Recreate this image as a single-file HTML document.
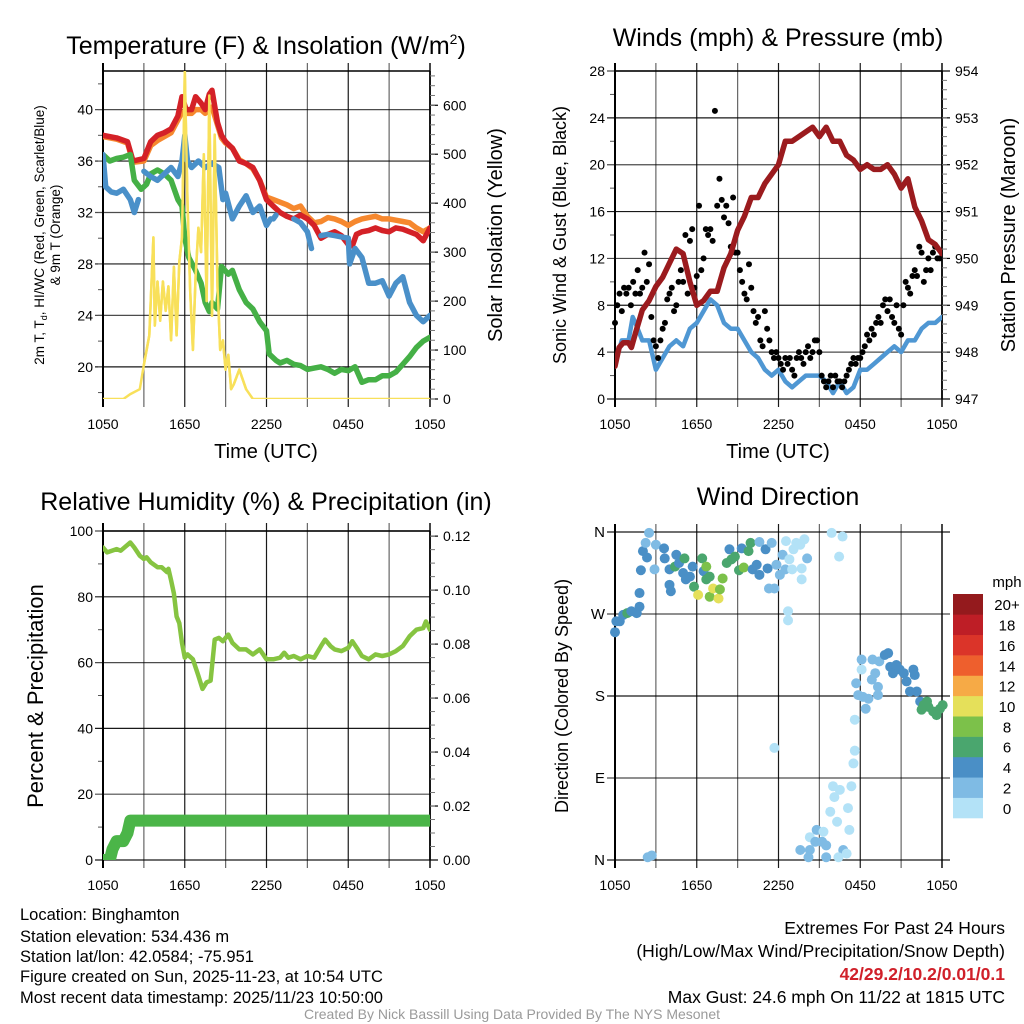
<!DOCTYPE html>
<html><head><meta charset="utf-8"><style>
html,body{margin:0;padding:0;background:#fff;}
svg{display:block;font-family:"Liberation Sans",sans-serif;}
</style></head><body>
<svg id="chart" width="1024" height="1024" viewBox="0 0 1024 1024" xmlns="http://www.w3.org/2000/svg">
<defs>
<clipPath id="c1"><rect x="103" y="71" width="327" height="328"/></clipPath>
<clipPath id="c2"><rect x="615" y="71" width="327" height="328"/></clipPath>
<clipPath id="c3"><rect x="103" y="531" width="327" height="329"/></clipPath>
<clipPath id="c4"><rect x="600" y="520" width="350" height="350"/></clipPath>
</defs>
<g id="layer"></g>
<text x="266" y="54" font-size="25" text-anchor="middle">Temperature (F) &amp; Insolation (W/m<tspan font-size="14" dy="-10">2</tspan><tspan dy="10">)</tspan></text>
<text x="778" y="46" font-size="25" text-anchor="middle">Winds (mph) &amp; Pressure (mb)</text>
<text x="266" y="510" font-size="25" text-anchor="middle">Relative Humidity (%) &amp; Precipitation (in)</text>
<text x="778" y="505" font-size="25" text-anchor="middle">Wind Direction</text>
<text x="266" y="458" font-size="20" text-anchor="middle">Time (UTC)</text>
<text x="778" y="458" font-size="20" text-anchor="middle">Time (UTC)</text>
<text font-size="13.5" text-anchor="middle" transform="translate(44,235) rotate(-90)">2m T, T<tspan font-size="9" dy="3">d</tspan><tspan dy="-3">, HI/WC (Red, Green, Scarlet/Blue)</tspan></text>
<text font-size="13.5" text-anchor="middle" transform="translate(60,235) rotate(-90)">&amp; 9m T (Orange)</text>
<text font-size="20" text-anchor="middle" transform="translate(502,235) rotate(-90)">Solar Insolation (Yellow)</text>
<text font-size="18" text-anchor="middle" transform="translate(566,235) rotate(-90)">Sonic Wind &amp; Gust (Blue, Black)</text>
<text font-size="20" text-anchor="middle" transform="translate(1015,235) rotate(-90)">Station Pressure (Maroon)</text>
<text font-size="22" text-anchor="middle" transform="translate(43,696) rotate(-90)">Percent &amp; Precipitation</text>
<text font-size="18" text-anchor="middle" transform="translate(568,696) rotate(-90)">Direction (Colored By Speed)</text>
<g font-size="16.5">
<text x="20" y="920">Location: Binghamton</text>
<text x="20" y="942">Station elevation: 534.436 m</text>
<text x="20" y="962">Station lat/lon: 42.0584; -75.951</text>
<text x="20" y="982">Figure created on Sun, 2025-11-23, at 10:54 UTC</text>
<text x="20" y="1003">Most recent data timestamp: 2025/11/23 10:50:00</text>
</g>
<g font-size="17.5" text-anchor="end">
<text x="1005" y="934">Extremes For Past 24 Hours</text>
<text x="1005" y="957">(High/Low/Max Wind/Precipitation/Snow Depth)</text>
<text x="1005" y="980" fill="#d0202a" font-weight="bold">42/29.2/10.2/0.01/0.1</text>
<text x="1005" y="1003">Max Gust: 24.6 mph On 11/22 at 1815 UTC</text>
</g>
<text x="512" y="1019" font-size="14" fill="#9a9a9a" text-anchor="middle">Created By Nick Bassill Using Data Provided By The NYS Mesonet</text>
</svg>
<script>
// ---------- data ----------
const xTickLabels = ["1050","1650","2250","0450","1050"];
const tempLeftTicks = [20,24,28,32,36,40];
const insolTicks = [0,100,200,300,400,500,600];
const windTicks = [0,4,8,12,16,20,24,28];
const pressTicks = [947,948,949,950,951,952,953,954];
const rhTicks = [0,20,40,60,80,100];
const precipTicks = ["0.00","0.02","0.04","0.06","0.08","0.10","0.12"];
const dirTicks = [0,90,180,270,360];
const dirLabels = ["N","E","S","W","N"];
const cbLabels = ["0","2","4","6","8","10","12","14","16","18","20+"];
const cbColors = ["#b3e2f7","#7fbbe4","#4a8fc6","#4aa66e","#7cc14a","#e5e05a","#f6aa46","#ee5f2d","#db3429","#be1e26","#941a1d"];

// time in hours since 1050 UTC
const redT = [[0,38],[1,37.8],[1.8,37.5],[2.2,36],[3,36.2],[3.5,37.5],[4,38],[4.5,38.2],[5,38.5],[5.5,39.5],[5.8,41],[6.1,40],[6.5,40],[6.8,41],[7.2,40.5],[7.5,40],[7.8,41.2],[8,41.5],[8.4,39],[8.7,38],[9,37.5],[9.5,37],[10,36],[10.5,35.8],[11,35.5],[11.5,34.5],[12,33],[12.5,32.5],[13,32],[13.5,31.7],[14,31.5],[14.5,31.8],[15,31.5],[15.5,31],[16,30],[16.5,30.3],[17,30.5],[17.5,30.2],[18,29.5],[18.3,29.4],[18.6,30.3],[19,30.5],[19.5,30.6],[20,30.8],[20.5,30.6],[21,30.5],[21.5,30.8],[22,30.7],[22.5,30.5],[23,30.3],[23.5,29.8],[24,30.8]];
const orangeT = [[0,37.9],[1,37.7],[1.8,37.4],[2.2,35.9],[3,36],[3.5,37.2],[4,37.6],[4.5,37.9],[5,38.2],[5.5,39.2],[5.8,39.8],[6.1,39.7],[6.5,39.7],[6.8,40],[7.2,40],[7.5,39.7],[7.8,40],[8,40.2],[8.4,38.8],[8.7,37.8],[9,37.4],[9.5,37],[10,36.1],[10.5,35.8],[11,35.4],[11.5,34.5],[12,33.2],[12.5,33],[13,32.8],[13.5,32.6],[14,32.3],[14.5,32.5],[15,31.7],[15.5,31.2],[16,31.3],[16.5,31.6],[17,31.5],[17.5,31.3],[18,31],[18.5,31.3],[19,31.5],[19.5,31.6],[20,31.7],[20.5,31.5],[21,31.5],[21.5,31.4],[22,31.3],[22.5,31.2],[23,30.8],[23.5,30.5],[24,30.8]];
const greenT = [[0,36.5],[0.5,36],[1,36.2],[1.5,36.3],[2,36.5],[2.3,34.5],[2.8,33.8],[3.2,34.2],[3.5,35],[4,35.3],[4.5,35],[5,34.5],[5.5,33],[5.8,32.5],[6,30],[6.3,28.5],[6.8,27.5],[7.2,26.5],[7.5,25],[7.8,24.3],[8,25],[8.4,24.5],[8.7,27.8],[9.2,27.2],[9.5,27.5],[10,26],[10.5,25],[11,24.5],[11.5,23.5],[12,22.8],[12.2,21],[12.7,20.5],[13,20.3],[13.5,20.5],[14,20.2],[14.5,20.1],[15,19.8],[15.5,19.9],[16,20],[16.5,19.8],[17,19.5],[17.5,19.8],[18,19.7],[18.5,20],[19,18.8],[19.5,19],[20,19],[20.5,19.3],[21,19.3],[21.5,19.6],[22,20.2],[22.5,20.8],[23,21.5],[23.5,22],[24,22.3]];
const blueT = [[0,36.5],[0.2,34],[0.6,33.6],[1,33.5],[1.5,33.8],[2,33],[2.3,32],[2.6,33],[null,null],[3,35.2],[3.5,34.8],[4,34.5],[4.5,35],[5,35.5],[5.5,34.8],[5.8,36],[6,38],[6.2,36],[6.5,35.5],[7,36],[7.5,35.5],[8,35.8],[8.5,35.5],[8.8,33],[9,33.5],[9.5,31.5],[10,32.5],[10.5,33.3],[11,32],[11.5,32.5],[12,31],[12.3,31.5],[null,null],[12.5,31.5],[12.7,31.8],[null,null],[14,31.5],[14.5,31.2],[15,30.5],[15.3,29.2],[null,null],[16,30.2],[16.5,30.3],[17,30.2],[17.5,30.1],[18,30],[18.1,28],[18.5,29.2],[19,28.5],[19.5,26.5],[20,26.5],[20.5,26.7],[21,25.5],[21.5,26.5],[22,27],[22.5,25],[23,24],[23.5,23.5],[24,24]];
const insolT = [[0,0],[1.5,0],[2,10],[2.7,20],[3,70],[3.2,100],[3.4,130],[3.7,330],[3.8,150],[4,240],[4.2,160],[4.4,240],[4.6,180],[4.8,230],[5,120],[5.2,270],[5.4,130],[5.6,280],[5.8,330],[6,670],[6.2,400],[6.4,220],[6.6,100],[6.8,250],[7,350],[7.2,300],[7.4,500],[7.6,200],[7.8,620],[8,170],[8.2,540],[8.4,230],[8.6,100],[8.8,120],[9,60],[9.2,90],[9.4,20],[9.6,30],[10,60],[10.5,20],[11,0],[24,0]];

const pressT = [[0,947.7],[0.3,948.1],[0.6,948.2],[1,948.2],[1.2,948.1],[1.5,948.4],[2,948.9],[2.5,949.1],[3,949.4],[3.5,949.6],[4,949.9],[4.5,950.2],[5,950.1],[5.5,949.5],[6,949.0],[6.5,949.1],[7,949.3],[7.5,949.3],[8,949.8],[8.5,950.1],[9,950.6],[9.5,950.9],[10,951.3],[10.5,951.3],[11,951.6],[11.5,951.8],[12,952.0],[12.5,952.5],[13,952.5],[13.5,952.6],[14,952.7],[14.5,952.8],[15,952.6],[15.5,952.8],[16,952.5],[16.5,952.5],[17,952.2],[17.5,952.1],[18,951.9],[18.5,952.0],[19,951.9],[19.5,951.9],[20,952.0],[20.5,951.8],[21,951.5],[21.5,951.7],[22,951.1],[22.5,950.8],[23,950.4],[23.5,950.3],[24,950.1]];
const sonicT = [[0,3],[0.5,5],[1,5],[1.3,7],[1.5,6.5],[2,5],[2.5,5],[3,2.5],[3.5,3.5],[4,4.5],[4.5,5],[5,4.5],[5.5,6],[6,6.5],[6.5,7.5],[7,8.5],[7.5,8],[8,6.5],[8.5,6],[9,6],[9.5,5],[10,4],[10.5,3.5],[11,2.5],[11.5,2],[12,2.5],[12.5,1.5],[13,1],[13.5,1.5],[14,2],[14.5,2],[15,2],[15.5,1.5],[16,0.5],[16.5,1.5],[17,0.5],[17.5,1],[18,2.5],[18.5,2.5],[19,3],[19.5,3.5],[20,4],[20.5,4.5],[21,4],[21.5,5],[22,5],[22.5,6],[23,6.5],[23.5,6.5],[24,7]];
// gusts sampled every 10 minutes
const gustV = [6.5,8,9,7.5,9.5,9, 9.5,8,10,9,11,9, 9.5,12.5,10,11.5,7,5, 4.5,3.5,5,6,6.5,8.5, 9,9.5,7.5,8,10,11, 10,14,9,13.5,14.5,9.5, 10.5,16.5,11,12,14.5,14, 14.5,13.5,24.6,16.5,18.8,17, 15.5,16.5,15,13,17.2,12.5, 12.5,11,10,9,8.5,11.5, 9.5,7.5,6.5,7,5,4.5, 7.5,6,5,4,3.5,4, 3.5,3,2.5,3.5,3,3.5, 2.5,2,3.5,4,3.5,3, 4,4.5,3.5,4,5,5, 4,2,1.5,1,1.5,2, 1,2,1.5,1.5,1,1.5, 2,2.5,3,3.5,3,3.5, 3.5,4,4.5,5.5,5,6, 5.5,6.5,7,6.5,8,8.5, 7.5,8.5,7,6.5,8,6, 5.5,8,10,9.5,9,10.5, 11,10.5,13,12.5,10,11, 12,11,12.5,13,12,12];

const rhT = [[0,95],[0.3,93.5],[1,94.5],[1.3,94],[2,96.5],[2.3,95],[2.7,92.5],[3,91.5],[3.2,92],[3.5,90.5],[4,89],[4.3,89],[4.7,87.5],[4.8,88.5],[5,85],[5.2,81],[5.4,74],[5.6,72],[5.8,66],[6,61.5],[6.2,62.5],[6.6,61],[7,56],[7.3,52],[7.6,54],[7.9,54.5],[8.2,67],[8.5,67.5],[8.8,66.5],[9.2,68.5],[9.5,66],[10,64],[10.5,64],[11,62.5],[11.5,64],[12,61],[12.5,61],[13,61.5],[13.3,63],[13.6,61.5],[14,62],[14.5,61],[15,62],[15.5,61.5],[16,65],[16.3,67],[16.7,65],[17,64],[17.5,63.5],[18,64.5],[18.3,66.5],[18.7,64],[19,62],[19.5,61],[20,62.5],[20.5,62],[21,62.5],[21.5,63.5],[22,65],[22.5,68],[23,70],[23.5,70.5],[23.7,72.5],[24,70]];
const precipT = [[0,0],[0.5,0],[0.7,0.004],[1,0.007],[1.5,0.007],[1.8,0.01],[2,0.0146],[24,0.0146]];

// wind direction: [hour, degrees, speed mph]
const dirT = [[0,250,4.5],[0.1,262,4.5],[0.35,262,4.5],[0.6,269,5],[0.9,271,6],[1.2,273,5],[1.6,271,5],[1.8,278,5],[1.8,293,5],[1.9,318,5],[2.05,339,5],[2.25,348,3],[2.5,359,2],[2.35,332,4],[2.9,319,2],[3.0,346,3],[3.6,342,4],[3.65,331,4],[4,319,4],[4.1,295,4],[4,302,4],[4.4,322,6],[4.5,335,4],[4.7,326,4],[5,315,4],[5.2,308,4],[5.1,331,6],[5.5,311,4],[5.7,322,4],[5.8,300,6],[6.1,291,10],[6.4,331,7],[6.5,317,5],[6.7,322,8],[6.7,308,6],[6.95,311,6],[6.95,289,8],[7.2,298,10],[7.6,287,10],[7.7,297,8],[7.9,309,8],[8.2,326,6],[8.4,341,4],[8.55,330,6],[8.8,333,6],[9.1,318,7],[9.3,342,4],[9.45,321,8],[9.8,339,6],[9.95,348,6],[10.1,319,4],[10.4,324,4],[10.6,313,4],[10.6,349,2],[11.05,341,4],[11.2,320,4],[11.3,298,3],[11.5,348,3],[11.7,298,3],[11.85,324,3],[12.1,313,3],[12.3,335,3],[12.5,319,3],[12.55,350,0],[12.7,273,1],[12.7,263,1],[12.8,330,1],[13,319,1],[13.1,341,1],[13.3,348,1],[13.7,308,1],[13.7,320,1],[13.6,346,0],[13.9,352,1],[14.1,331,2],[11.7,123,1],[15.9,359,0],[16.7,355,0],[16.45,333,0],[17.6,154,0],[17.6,120,0],[17.5,106,0],[17.35,81,0],[16,81,0],[16.5,77,0],[16.1,69,0],[15.8,53,0],[16.3,42,0],[17.1,57,0],[17.2,33,0],[16.75,11,3],[17,7,0],[16.4,3,0],[14.8,33,3],[14.3,25,1],[14.7,20,3],[15.2,20,3],[15.5,16,2],[13.6,11,3],[14.3,11,2],[14.2,3,2],[15.5,3,3],[15.3,31,1],[2.4,3,2],[2.7,5,2],[18.1,220,3],[18.1,209,1],[17.7,194,2],[17.85,181,2],[18.2,179,3],[18.6,177,3],[18.4,166,3],[18.85,198,2],[19.1,205,2],[19.3,190,2],[19.3,181,2],[18.9,220,3],[19.4,218,3],[19.8,225,4],[20.05,227,4],[20.2,212,4],[20.4,205,4],[20.65,214,4],[20.9,209,4],[21.2,205,4],[21.4,196,4],[21.65,185,4],[21.9,209,4],[22,203,4],[22.15,185,4],[22.4,174,4],[22.65,170,6],[23,168,6],[23.35,163,6],[23.6,159,6],[23.85,166,6],[24.05,170,6],[22.5,165,6],[22.9,174,6]];

// ---------- drawing ----------
const NS = "http://www.w3.org/2000/svg";
const layer = document.getElementById('layer');
function mk(tag, attrs, parent){
  const e = document.createElementNS(NS, tag);
  for (const k in attrs) e.setAttribute(k, attrs[k]);
  (parent||layer).appendChild(e);
  return e;
}
function lin(d0,d1,r0,r1){ return v => r0 + (v-d0)/(d1-d0)*(r1-r0); }

function panel(p){
  const g = mk('g', {});
  
  
  const xs = lin(0,24,p.x0,p.x1);
  for (let h=0; h<=24; h+=3){
    const x = xs(h);
    const l = mk('line', {x1:x, x2:x, y1:p.y0-8, y2:p.y1+8, stroke:'#000', 'stroke-width':(h===0||h===24)?1.6:1.2, 'stroke-opacity':(h%6===0)?0.9:0.6}, g);
    
    
  }
  xTickLabels.forEach((s,i)=>{
    const t = mk('text', {x:xs(i*6), y:p.y1+30, 'font-size':14, 'text-anchor':'middle'}, g);
    t.textContent = s;
    
    
  });
  const yl = lin(p.lmin,p.lmax,p.y1,p.y0);
  p.lTicks.forEach((v,i)=>{
    const y = yl(v);
    mk('line', {x1:p.x0-8, x2:p.x1+(p.gridRight||0), y1:y, y2:y, stroke:'#000', 'stroke-width':1.2, 'stroke-opacity':(i%2===0)?0.9:0.7}, g);
    const t = mk('text', {x:p.x0-10, y:y+5, 'font-size':p.lfs||14, 'text-anchor':'end'}, g);
    t.textContent = p.lLabels ? p.lLabels[i] : v;
    
    
  });
  if (p.lMinor) p.lMinor.forEach(v=>{ const y=yl(v); mk('line',{x1:p.x0-5,x2:p.x0,y1:y,y2:y,stroke:'#555','stroke-width':1},g); });
  mk('line', {x1:p.x0, x2:p.x0, y1:p.y0-8, y2:p.y1+8, stroke:'#000', 'stroke-width':2}, g);
  if (p.topLine) mk('line', {x1:p.x0, x2:p.x1, y1:p.y0, y2:p.y0, stroke:'#000', 'stroke-width':1.5}, g);
  if (p.rTicks){
    const yr = lin(p.rmin,p.rmax,p.y1,p.y0);
    mk('line', {x1:p.x1, x2:p.x1, y1:p.y0, y2:p.y1, stroke:'#000', 'stroke-width':1.6}, g);
    p.rTicks.forEach((v,i)=>{
      const y = yr(Number(v));
      mk('line', {x1:p.x1, x2:p.x1+8, y1:y, y2:y, stroke:'#000', 'stroke-width':1.2}, g);
      const t = mk('text', {x:p.x1+13, y:y+5, 'font-size':14}, g);
      t.textContent = v;
      
      
    });
    if (p.rMinor) p.rMinor.forEach(v=>{ const y=yr(v); mk('line',{x1:p.x1,x2:p.x1+5,y1:y,y2:y,stroke:'#777','stroke-width':1},g); });
    p.yr = yr;
  }
  p.xs = xs; p.yl = yl; p.g = g;
  return p;
}
function pathFrom(pts, xs, ys){
  let d = '', pen = false;
  pts.forEach(([t,v])=>{
    if (t===null){ pen=false; return; }
    d += (pen?'L':'M') + xs(t).toFixed(1) + ',' + ys(v).toFixed(1);
    pen = true;
  });
  return d;
}
function series(p, pts, ys, color, w, name, clip){
  const e = mk('path', {d:pathFrom(pts,p.xs,ys), fill:'none', stroke:color, 'stroke-width':w, 'stroke-linejoin':'round', 'stroke-linecap':'round', 'clip-path':'url(#'+clip+')'}, p.g);
  
  
}
function range(a,b,s){ const r=[]; for(let v=a; v<=b+1e-9; v+=s) r.push(+v.toFixed(4)); return r; }

// Panel 1: temperature
const p1 = panel({name:'temperature', x0:103, x1:430, y0:71, y1:399, lmin:17.5, lmax:43, lTicks:tempLeftTicks, lMinor:range(18,42,2), rmin:0, rmax:670, rTicks:insolTicks, rMinor:range(0,660,20), topLine:true});
series(p1, insolT, p1.yr, '#f8e05a', 2.5, 'insolation-line', 'c1');
series(p1, orangeT, p1.yl, '#f6882e', 5.5, 'temp-9m-line', 'c1');
series(p1, redT, p1.yl, '#d42127', 5.5, 'temp-2m-line', 'c1');
series(p1, greenT, p1.yl, '#45b046', 5.5, 'dewpoint-line', 'c1');
series(p1, blueT, p1.yl, '#4a90c9', 5.5, 'windchill-line', 'c1');
series(p1, insolT.filter(d=>d[0]>=3&&d[0]<=10.5), p1.yr, '#f8e05a', 2.5, 'insolation-line-top', 'c1');

// Panel 2: winds & pressure
const p2 = panel({name:'winds', x0:615, x1:942, y0:71, y1:399, lmin:0, lmax:28, lTicks:windTicks, lMinor:range(2,26,4), rmin:947, rmax:954, rTicks:pressTicks, rMinor:range(947.2,953.8,0.2), topLine:true});
series(p2, sonicT, p2.yl, '#4f97d3', 4.5, 'sonic-wind-line', 'c2');
gustV.forEach((v,i)=>{
  const c = mk('circle', {cx:p2.xs(i/6), cy:p2.yl(v), r:3, fill:'#000'}, p2.g);
  
  
});
series(p2, pressT, p2.yr, '#9b1b1e', 5.5, 'pressure-line', 'c2');

// Panel 3: RH & precip
const p3 = panel({name:'humidity', x0:103, x1:430, y0:531, y1:860, lmin:0, lmax:100, lTicks:rhTicks, lMinor:range(10,90,20), rmin:0, rmax:0.1219, rTicks:precipTicks, rMinor:range(0.005,0.12,0.005), topLine:true});
series(p3, rhT, p3.yl, '#86c441', 4.5, 'rh-line', 'c3');
series(p3, precipT, p3.yr, '#4bb548', 12, 'precip-line', 'c3');

// Panel 4: wind direction
const p4 = panel({name:'direction', x0:615, x1:942, y0:532, y1:860, lmin:0, lmax:360, lTicks:dirTicks, lLabels:dirLabels, lfs:15, gridRight:8});
dirT.forEach(([t,d,s])=>{
  const bin = Math.min(10, Math.floor(s/2));
  const c = mk('circle', {cx:p4.xs(t), cy:p4.yl(d), r:5, fill:cbColors[bin], 'clip-path':'url(#c4)'}, p4.g);
  
  
});
// colorbar
const cb = mk('g', {});


const cbY = lin(0, cbColors.length, 818, 594);
cbColors.forEach((col,i)=>{
  const r = mk('rect', {x:953, y:cbY(i+1), width:30, height:cbY(i)-cbY(i+1)+0.3, fill:col}, cb);
  
  
  const t = mk('text', {x:1007, y:(cbY(i)+cbY(i+1))/2+6, 'font-size':15, 'text-anchor':'middle'}, cb);
  t.textContent = cbLabels[i];
  
  
});
const mph = mk('text', {x:1007, y:587, 'font-size':15, 'text-anchor':'middle'}, cb);
mph.textContent = 'mph';


</script>
</body></html>
